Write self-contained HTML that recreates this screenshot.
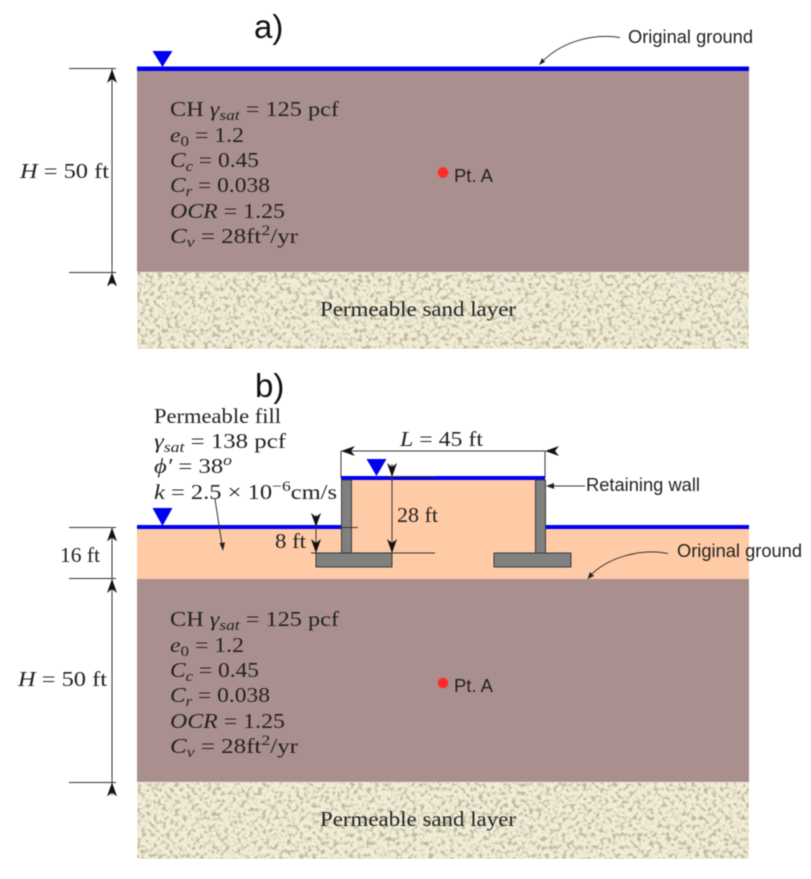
<!DOCTYPE html>
<html><head><meta charset="utf-8"><style>
html,body{margin:0;padding:0;background:#fff;width:811px;height:879px;overflow:hidden}
svg{display:block}
.m{font-family:"Liberation Serif",serif;font-size:21px;fill:#222}
.s{font-family:"Liberation Sans",sans-serif;font-size:18px;fill:#222}
.i{font-style:italic}
.sub{font-size:15px}
.t{font-family:"Liberation Sans",sans-serif;font-size:33px;fill:#111}
</style></head><body>
<svg width="811" height="879" viewBox="0 0 811 879" xmlns="http://www.w3.org/2000/svg">
<defs>
<filter id="sand" x="0" y="0" width="100%" height="100%" color-interpolation-filters="sRGB">
<feTurbulence type="fractalNoise" baseFrequency="0.24" numOctaves="2" seed="7"/>
<feColorMatrix type="matrix" values="0 0 0 0 0  0 0 0 0 0  0 0 0 0 0  3 0 0 0 -1.35"/>
<feComponentTransfer result="n"><feFuncA type="linear" slope="1.3" intercept="-0.1"/></feComponentTransfer>
<feFlood flood-color="#bdb898"/>
<feComposite in2="n" operator="in"/>
<feComposite in2="SourceGraphic" operator="over"/>
<feGaussianBlur stdDeviation="0.6"/>
</filter>
<filter id="b" x="0" y="0" width="100%" height="100%" color-interpolation-filters="sRGB"><feGaussianBlur stdDeviation="0.45"/></filter>
<path id="ah" d="M0,0 L5,14 L0,10 L-5,14 Z" fill="#111"/>
</defs>
<rect width="811" height="879" fill="#fff"/>
<!-- sand -->
<rect x="137" y="272" width="612" height="77" fill="#f0ecd8" filter="url(#sand)"/>
<rect x="137" y="782" width="612" height="77" fill="#f0ecd8" filter="url(#sand)"/>
<g filter="url(#b)">
<!-- panel a -->
<rect x="137" y="70" width="612" height="202" fill="#aa8f8f"/>
<rect x="137" y="66.5" width="612" height="4.5" fill="#0000f0"/>
<polygon points="152.5,51 172.5,51 162.5,67" fill="#0000f0"/>
<g stroke="#333" stroke-width="1" fill="none">
<line x1="69" y1="68.5" x2="116" y2="68.5"/>
<line x1="69" y1="272.5" x2="116" y2="272.5"/>
<line x1="112" y1="69" x2="112" y2="284"/>
<path d="M620,37.5 C592,33 560,42 540,64"/>
</g>
<use href="#ah" transform="translate(112,69)"/>
<use href="#ah" transform="translate(112,272.5)"/>
<polygon points="539,65 542,58 545,62" fill="#222"/>
<text class="t" x="254" y="38">a)</text>
<text class="s" x="628" y="43" textLength="125" lengthAdjust="spacingAndGlyphs">Original ground</text>
<circle cx="443" cy="172.5" r="5.3" fill="#ff2b2b"/>
<text class="s" x="454" y="182" textLength="39" lengthAdjust="spacingAndGlyphs">Pt. A</text>
<text class="m" x="20" y="178" textLength="89" lengthAdjust="spacingAndGlyphs"><tspan class="i">H</tspan> = 50 ft</text>
<text class="m" x="170" y="116" textLength="169" lengthAdjust="spacingAndGlyphs">CH <tspan class="i">γ</tspan><tspan class="i sub" dy="4">sat</tspan><tspan dy="-4"> = 125 pcf</tspan></text>
<text class="m" x="170" y="142" textLength="74" lengthAdjust="spacingAndGlyphs"><tspan class="i">e</tspan><tspan class="sub" dy="4">0</tspan><tspan dy="-4"> = 1.2</tspan></text>
<text class="m" x="170" y="167" textLength="89" lengthAdjust="spacingAndGlyphs"><tspan class="i">C</tspan><tspan class="i sub" dy="4">c</tspan><tspan dy="-4"> = 0.45</tspan></text>
<text class="m" x="170" y="192" textLength="100" lengthAdjust="spacingAndGlyphs"><tspan class="i">C</tspan><tspan class="i sub" dy="4">r</tspan><tspan dy="-4"> = 0.038</tspan></text>
<text class="m" x="170" y="218" textLength="115" lengthAdjust="spacingAndGlyphs"><tspan class="i">OCR</tspan> = 1.25</text>
<text class="m" x="170" y="243" textLength="128" lengthAdjust="spacingAndGlyphs"><tspan class="i">C</tspan><tspan class="i sub" dy="4">v</tspan><tspan dy="-4"> = 28ft</tspan><tspan class="sub" dy="-8">2</tspan><tspan dy="8">/yr</tspan></text>
<text class="m" x="320" y="316" textLength="196" lengthAdjust="spacingAndGlyphs">Permeable sand layer</text>

<!-- panel b -->
<rect x="137" y="528" width="612" height="51" fill="#ffcba6"/>
<rect x="341" y="478" width="204" height="52" fill="#ffcba6"/>
<rect x="137" y="579" width="612" height="203" fill="#aa8f8f"/>
<rect x="137" y="525" width="204" height="4" fill="#0000f0"/>
<rect x="545" y="525" width="204" height="4" fill="#0000f0"/>
<rect x="341" y="476" width="204" height="4" fill="#0000f0"/>
<polygon points="152.5,508 172.5,508 162.5,526" fill="#0000f0"/>
<polygon points="366.5,459 386.5,459 376.5,476" fill="#0000f0"/>
<g fill="#808080" stroke="#3a3a3a" stroke-width="1">
<rect x="341.5" y="480" width="10" height="73"/>
<rect x="535.5" y="480" width="10" height="73"/>
<rect x="316" y="553" width="76" height="14"/>
<rect x="494" y="553" width="77" height="14"/>
</g>
<g stroke="#333" stroke-width="1" fill="none">
<line x1="69" y1="527.5" x2="116" y2="527.5"/>
<line x1="69" y1="578.5" x2="116" y2="578.5"/>
<line x1="69" y1="782.5" x2="116" y2="782.5"/>
<line x1="112" y1="528" x2="112" y2="795"/>
<line x1="341" y1="451" x2="545" y2="451"/>
<line x1="341" y1="451" x2="341" y2="478"/>
<line x1="545" y1="451" x2="545" y2="478"/>
<line x1="392" y1="464" x2="392" y2="553"/>
<line x1="388" y1="476.5" x2="435" y2="476.5"/>
<line x1="311" y1="553" x2="435" y2="553"/>
<line x1="316" y1="515" x2="316" y2="553"/>
<line x1="341" y1="527.5" x2="358" y2="527.5"/>
<line x1="215" y1="499" x2="222.5" y2="548"/>
<line x1="548" y1="486" x2="585" y2="486"/>
<path d="M668,553.5 C640,548 606,558 589,577"/>
</g>
<use href="#ah" transform="translate(112,527.5)"/>
<use href="#ah" transform="translate(112,579)"/>
<use href="#ah" transform="translate(112,782.5)"/>
<use href="#ah" transform="translate(341,451) rotate(-90)"/>
<use href="#ah" transform="translate(545,451) rotate(-90)"/>
<use href="#ah" transform="translate(392,477) rotate(180)"/>
<use href="#ah" transform="translate(392,553) rotate(180)"/>
<use href="#ah" transform="translate(316,527) rotate(180)"/>
<use href="#ah" transform="translate(316,553) rotate(180)"/>
<polygon points="223,551 219.5,543 225,542.5" fill="#222"/>
<polygon points="546,486 554,483 554,489" fill="#222"/>
<polygon points="587.5,579 590,572 594,576" fill="#222"/>
<text class="t" x="255" y="397">b)</text>
<text class="m" x="154" y="423" textLength="127" lengthAdjust="spacingAndGlyphs">Permeable fill</text>
<text class="m" x="154" y="448" textLength="132" lengthAdjust="spacingAndGlyphs"><tspan class="i">γ</tspan><tspan class="i sub" dy="4">sat</tspan><tspan dy="-4"> = 138 pcf</tspan></text>
<text class="m" x="154" y="473" textLength="78" lengthAdjust="spacingAndGlyphs"><tspan class="i">ϕ′</tspan> = 38<tspan class="i sub" dy="-8">o</tspan></text>
<text class="m" x="154" y="499" textLength="183" lengthAdjust="spacingAndGlyphs"><tspan class="i">k</tspan> = 2.5 × 10<tspan class="sub" dy="-8">−6</tspan><tspan dy="8">cm/s</tspan></text>
<text class="m" x="400" y="446" textLength="83" lengthAdjust="spacingAndGlyphs"><tspan class="i">L</tspan> = 45 ft</text>
<text class="m" x="397" y="522" textLength="41" lengthAdjust="spacingAndGlyphs">28 ft</text>
<text class="m" x="275" y="548" textLength="31" lengthAdjust="spacingAndGlyphs">8 ft</text>
<text class="m" x="60" y="562" textLength="40" lengthAdjust="spacingAndGlyphs">16 ft</text>
<text class="s" x="586" y="491" textLength="114" lengthAdjust="spacingAndGlyphs">Retaining wall</text>
<text class="s" x="677" y="557" textLength="125" lengthAdjust="spacingAndGlyphs">Original ground</text>
<circle cx="443" cy="683" r="5.3" fill="#ff2b2b"/>
<text class="s" x="454" y="692" textLength="39" lengthAdjust="spacingAndGlyphs">Pt. A</text>
<text class="m" x="18" y="686" textLength="89" lengthAdjust="spacingAndGlyphs"><tspan class="i">H</tspan> = 50 ft</text>
<text class="m" x="170" y="626" textLength="169" lengthAdjust="spacingAndGlyphs">CH <tspan class="i">γ</tspan><tspan class="i sub" dy="4">sat</tspan><tspan dy="-4"> = 125 pcf</tspan></text>
<text class="m" x="170" y="652" textLength="74" lengthAdjust="spacingAndGlyphs"><tspan class="i">e</tspan><tspan class="sub" dy="4">0</tspan><tspan dy="-4"> = 1.2</tspan></text>
<text class="m" x="170" y="677" textLength="89" lengthAdjust="spacingAndGlyphs"><tspan class="i">C</tspan><tspan class="i sub" dy="4">c</tspan><tspan dy="-4"> = 0.45</tspan></text>
<text class="m" x="170" y="702" textLength="100" lengthAdjust="spacingAndGlyphs"><tspan class="i">C</tspan><tspan class="i sub" dy="4">r</tspan><tspan dy="-4"> = 0.038</tspan></text>
<text class="m" x="170" y="728" textLength="115" lengthAdjust="spacingAndGlyphs"><tspan class="i">OCR</tspan> = 1.25</text>
<text class="m" x="170" y="753" textLength="128" lengthAdjust="spacingAndGlyphs"><tspan class="i">C</tspan><tspan class="i sub" dy="4">v</tspan><tspan dy="-4"> = 28ft</tspan><tspan class="sub" dy="-8">2</tspan><tspan dy="8">/yr</tspan></text>
<text class="m" x="320" y="826" textLength="196" lengthAdjust="spacingAndGlyphs">Permeable sand layer</text>
</g>
</svg>
</body></html>
